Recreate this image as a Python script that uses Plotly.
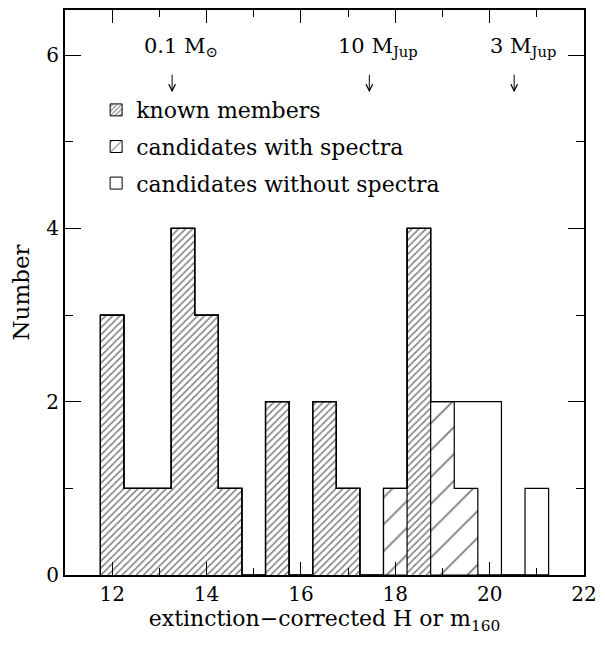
import plotly.graph_objects as go

bin_centers = [12.0, 12.5, 13.0, 13.5, 14.0, 14.5, 15.0, 15.5, 16.0, 16.5,
               17.0, 17.5, 18.0, 18.5, 19.0, 19.5, 20.0, 20.5, 21.0]
bin_width = 0.5
known = [3, 1, 1, 4, 3, 1, 0, 2, 0, 2, 1, 0, 0, 4, 0, 0, 0, 0, 0]
with_spectra = [0, 0, 0, 0, 0, 0, 0, 0, 0, 0, 0, 0, 1, 0, 2, 1, 0, 0, 0]
without_spectra = [0, 0, 0, 0, 0, 0, 0, 0, 0, 0, 0, 0, 0, 0, 0, 1, 2, 0, 1]

mass_labels = ["0.1 M<sub>⊙</sub>", "10 M<sub>Jup</sub>", "3 M<sub>Jup</sub>"]
mass_positions = [13.27, 17.45, 20.52]

FONT = "DejaVu Serif"

fig = go.Figure()

dense = dict(shape="/", size=5, solidity=0.3, fgcolor="black", bgcolor="white", fillmode="overlay")
sparse = dict(shape="/", size=19, solidity=0.1, fgcolor="black", bgcolor="white", fillmode="overlay")

fig.add_trace(go.Bar(x=bin_centers, y=known, width=bin_width,
                     marker=dict(color="white", pattern=dense, line=dict(width=0)),
                     showlegend=False, hoverinfo="skip"))
fig.add_trace(go.Bar(x=bin_centers, y=with_spectra, base=known, width=bin_width,
                     marker=dict(color="white", pattern=sparse, line=dict(width=0)),
                     showlegend=False, hoverinfo="skip"))

edges = [c - bin_width / 2 for c in bin_centers] + [bin_centers[-1] + bin_width / 2]
cum1 = known
cum2 = [a + b for a, b in zip(known, with_spectra)]
cum3 = [a + b + c for a, b, c in zip(known, with_spectra, without_spectra)]
for vals in (cum1, cum2, cum3):
    xs = [edges[0]] + edges[:-1] + [edges[-1]]
    ys = [0] + list(vals) + [0]
    fig.add_trace(go.Scatter(x=xs, y=ys, mode="lines", line=dict(color="black", width=1.2, shape="hv"),
                             showlegend=False, hoverinfo="skip"))

# legend entries
legend_dense = dict(dense, size=4, solidity=0.35)
legend_sparse = dict(sparse, size=9, solidity=0.14)
for name, pat, grp in [("known members", legend_dense, "a"),
                       ("candidates with spectra", legend_sparse, "b"),
                       ("candidates without spectra", None, "c")]:
    m = dict(color="white", line=dict(color="black", width=1))
    if pat is not None:
        m["pattern"] = pat
    fig.add_trace(go.Bar(x=[None], y=[None], name=name, marker=m, legendgroup=grp, showlegend=True))

for lab, pos in zip(mass_labels, mass_positions):
    fig.add_annotation(x=pos, y=6.09, text=lab, showarrow=False, xshift=9,
                       font=dict(family=FONT, size=21, color="black"))
    fig.add_annotation(x=pos, y=5.57, text="", showarrow=True, ax=0, ay=-19,
                       arrowhead=5, arrowsize=1.3, arrowwidth=1, arrowcolor="black", standoff=0)

axis_common = dict(showline=True, linecolor="black", linewidth=1.8, mirror="ticks",
                   ticks="inside", tickcolor="black", showgrid=False, zeroline=False,
                   tickfont=dict(family=FONT, size=20, color="black"))

fig.update_xaxes(range=[11, 22], tick0=12, dtick=2, ticklen=13, tickwidth=1,
                 minor=dict(dtick=1, tick0=11, ticklen=7, ticks="inside", tickcolor="black", showgrid=False),
                 title=dict(text="extinction−corrected H or m<sub>160</sub>", standoff=4,
                            font=dict(family=FONT, size=22, color="black")),
                 **axis_common)
fig.update_yaxes(range=[0, 6.52], tick0=0, dtick=2, ticklen=16, tickwidth=1,
                 minor=dict(dtick=1, tick0=0, ticklen=8, ticks="inside", tickcolor="black", showgrid=False),
                 title=dict(text="Number", standoff=10, font=dict(family=FONT, size=23, color="black")),
                 **axis_common)

fig.update_layout(
    width=605, height=645,
    margin=dict(l=65, r=16, t=8, b=70),
    plot_bgcolor="white", paper_bgcolor="white",
    barmode="overlay", bargap=0,
    legend=dict(x=0.06, y=0.86, xanchor="left", yanchor="top", bgcolor="rgba(0,0,0,0)",
                traceorder="grouped", tracegroupgap=5,
                font=dict(family=FONT, size=22, color="black")),
)

fig.write_html("out.html")
